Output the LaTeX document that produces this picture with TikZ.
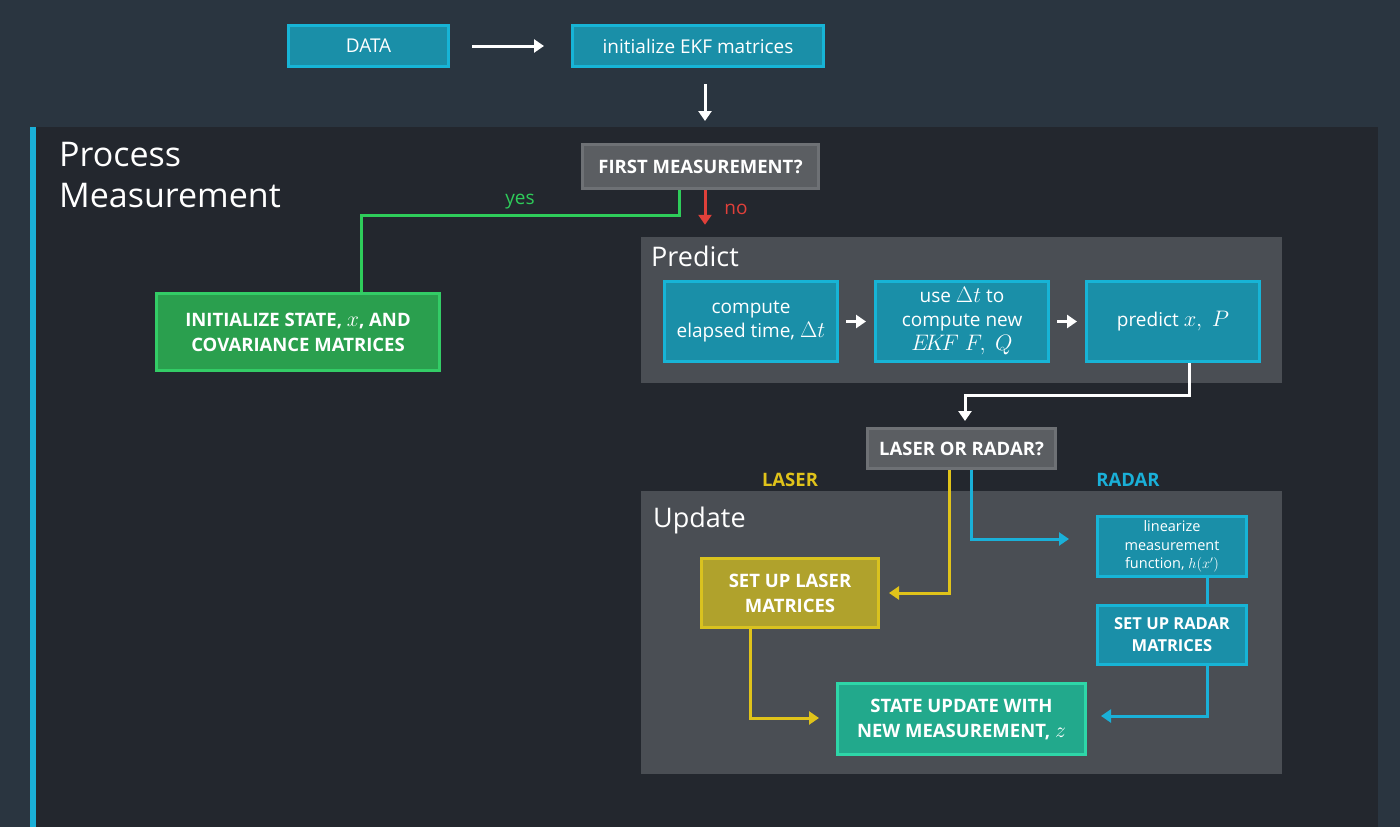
\RequirePackage{fix-cm}
\documentclass[tikz,border=0pt]{standalone}
\usepackage{fontspec}
\setmainfont{Open Sans}
\usetikzlibrary{arrows.meta}
\newcommand{\mth}[1]{\scalebox{1.18}{$#1$}}
\definecolor{topbg}{HTML}{2A3540}
\definecolor{procbg}{HTML}{23272E}
\definecolor{panel}{HTML}{4A4E54}
\definecolor{tealf}{HTML}{1A8FA8}
\definecolor{tealb}{HTML}{17B4D6}
\definecolor{grayf}{HTML}{5B5E62}
\definecolor{grayb}{HTML}{6E7175}
\definecolor{greenf}{HTML}{2A9F4E}
\definecolor{greenb}{HTML}{33CC66}
\definecolor{olivef}{HTML}{B0A22C}
\definecolor{oliveb}{HTML}{D9C21F}
\definecolor{mintf}{HTML}{22A98C}
\definecolor{mintb}{HTML}{2ED6A8}
\definecolor{yel}{HTML}{E0C31A}
\definecolor{blu}{HTML}{1AB0D8}
\definecolor{grn}{HTML}{2ECC5A}
\definecolor{red}{HTML}{E0403A}
\tikzset{
  box/.style={draw, line width=3pt, inner sep=0pt, align=center, text=white, font=\fontsize{19}{24}\selectfont},
  capsbox/.style={box, font=\fontsize{18.5}{25}\selectfont\bfseries},
  tealbox/.style={box, fill=tealf, draw=tealb},
  graybox/.style={capsbox, fill=grayf, draw=grayb},
  conn/.style={line width=3pt, -{Triangle[length=10pt,width=13pt]}},
  plain/.style={line width=3pt},
  paneltitle/.style={anchor=west, text=white, font=\fontsize{27}{30}\selectfont, inner sep=0pt},
}
\begin{document}
\begin{tikzpicture}[x=1pt,y=-1pt]
\useasboundingbox (0,0) rectangle (1400,827);
\fill[topbg] (0,0) rectangle (1400,827);
\fill[procbg] (30,127) rectangle (1378,827);
\fill[blu] (30,127) rectangle (36,827);
\node[paneltitle, anchor=north west, align=left, font=\fontsize{34}{41}\selectfont] (ptitle) at (59,142) {Process\\Measurement};

% panels
\node[fill=panel, minimum width=641pt, minimum height=146pt, inner sep=0pt] (predictpanel) at (961.5,310) {};
\node[fill=panel, minimum width=641pt, minimum height=283pt, inner sep=0pt] (updatepanel) at (961.5,632.5) {};
\node[paneltitle] (ptxt) at (651,256) {Predict};
\node[paneltitle] (utxt) at (653,520) {Update};

% nodes
\node[tealbox, minimum width=160pt, minimum height=41pt] (data) at (368.5,46) {DATA};
\node[tealbox, minimum width=251pt, minimum height=41pt] (init) at (698,46) {initialize EKF matrices};
\node[graybox, minimum width=236pt, minimum height=44pt] (first) at (700.5,166.5) {FIRST MEASUREMENT?};
\node[capsbox, fill=greenf, draw=greenb, minimum width=283pt, minimum height=77pt] (initstate) at (298,332) {INITIALIZE STATE, \mth{x}, AND\\COVARIANCE MATRICES};
\node[tealbox, minimum width=173pt, minimum height=80pt] (cet) at (751,321.5) {compute\\elapsed time, \mth{\Delta t}};
\node[tealbox, minimum width=173pt, minimum height=80pt] (usedt) at (962,321.5) {use \mth{\Delta t} to\\compute new\\\mth{E\!K\!F\ F,\ Q}};
\node[tealbox, minimum width=173pt, minimum height=80pt] (predxp) at (1173,321.5) {predict \mth{x,\ P}};
\node[graybox, minimum width=188pt, minimum height=40pt] (lor) at (961.5,448.5) {LASER OR RADAR?};
\node[tealbox, minimum width=149pt, minimum height=60pt, font=\fontsize{14.5}{18.5}\selectfont] (lin) at (1172,546.5) {linearize\\measurement\\function, $h(x')$};
\node[capsbox, fill=olivef, draw=oliveb, minimum width=177pt, minimum height=69pt] (sul) at (790,593) {SET UP LASER\\MATRICES};
\node[capsbox, fill=tealf, draw=tealb, minimum width=149pt, minimum height=59pt, font=\fontsize{16.5}{22}\selectfont\bfseries] (sur) at (1172,635) {SET UP RADAR\\MATRICES};
\node[capsbox, fill=mintf, draw=mintb, minimum width=248pt, minimum height=71pt] (su) at (961.5,719) {STATE UPDATE WITH\\NEW MEASUREMENT, \mth{z}};

% labels
\node[text=grn, font=\fontsize{19}{22}\selectfont, inner sep=0pt] (yes) at (520,202) {yes};
\node[text=red, font=\fontsize{19}{22}\selectfont, inner sep=0pt] (no) at (736,209) {no};
\node[text=yel, font=\fontsize{18.5}{22}\selectfont\bfseries, inner sep=0pt] (laser) at (790,480) {LASER};
\node[text=blu, font=\fontsize{18.5}{22}\selectfont\bfseries, inner sep=0pt] (radar) at (1128,480) {RADAR};

% connectors
\draw[conn, white, shorten <=22pt, shorten >=27pt] (data) -- (init);
\draw[conn, white, shorten <=16pt, shorten >=22pt] ([xshift=7pt]init.south) -- ([xshift=4.5pt]first.north);
\draw[plain, grn] ([xshift=-21.5pt]first.south) -- ++(0,25) -| ([xshift=63pt]initstate.north);
\draw[conn, red, shorten >=12pt] ([xshift=4.5pt]first.south) -- ([xshift=-256.5pt]predictpanel.north);
\draw[conn, white, shorten <=7pt, shorten >=8pt] (cet) -- (usedt);
\draw[conn, white, shorten <=7pt, shorten >=8pt] (usedt) -- (predxp);
\draw[conn, white, shorten >=6pt] ([xshift=16pt]predxp.south) -- ++(0,32) -| ([xshift=3.5pt]lor.north);
\draw[conn, yel, shorten >=9pt] ([xshift=-12.5pt]lor.south) |- (sul.east);
\draw[conn, blu, shorten >=27pt] ([xshift=9.5pt]lor.south) |- ([yshift=7.5pt]lin.west);
\draw[plain, blu] ([xshift=35pt]lin.south) -- ([xshift=35pt]sur.north);
\draw[conn, blu, shorten >=14pt] ([xshift=35pt]sur.south) |- ([yshift=3pt]su.east);
\draw[conn, yel, shorten >=17pt] ([xshift=-40pt]sul.south) |- ([yshift=1pt]su.west);
\end{tikzpicture}
\end{document}
